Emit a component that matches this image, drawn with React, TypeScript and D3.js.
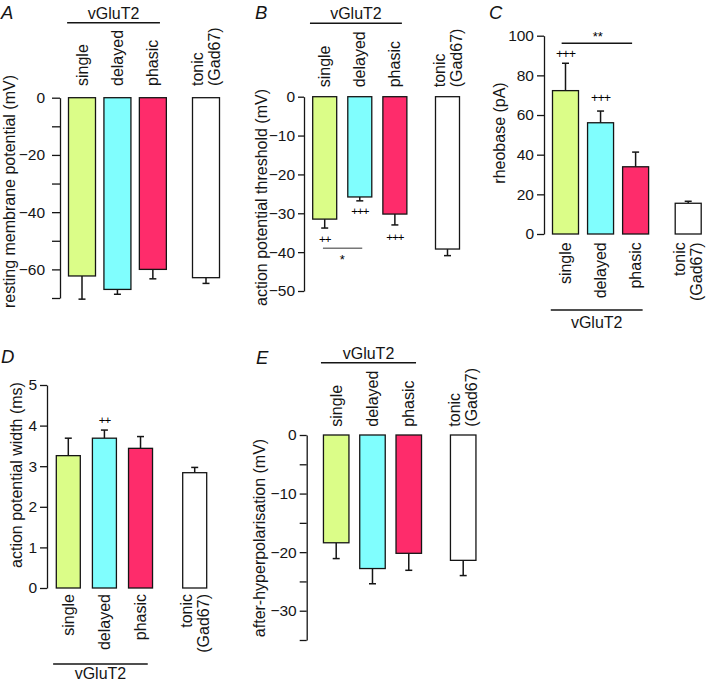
import React from 'react';
import * as d3 from 'd3';

const width = 708;
const height = 681;
const font = '"Liberation Sans", Arial, Helvetica, sans-serif';
const ink = '#151515';

// shared categories
const categories = ['single', 'delayed', 'phasic', 'tonic'];
const slots = [0, 1, 2, 3.5];
const fills = ['#dbfd88', '#80fefe', '#fe2c6b', '#ffffff'];
const groupLabel = 'vGluT2';
const tonicLines = ['tonic', '(Gad67)'];

// A: resting membrane potential (mV)
const restMean = [-62.3, -67.0, -60.0, -62.9];
const restSem = [8.1, 1.7, 3.3, 2.0];

// B: action potential threshold (mV)
const thrMean = [-31.5, -25.8, -30.2, -39.2];
const thrSem = [2.3, 1.0, 2.8, 1.7];

// C: rheobase (pA)
const rheoMean = [72.3, 56.1, 33.9, 15.5];
const rheoSem = [13.8, 5.9, 7.4, 1.0];

// D: action potential width (ms)
const widthMean = [3.26, 3.69, 3.44, 2.84];
const widthSem = [0.43, 0.2, 0.29, 0.13];

// E: after-hyperpolarisation (mV)
const ahpMean = [-18.4, -22.8, -20.2, -21.4];
const ahpSem = [2.7, 2.6, 2.9, 2.6];

type Mark =
  | {kind: 'text'; at: number; value: number; text: string; size: number; spacing?: number; central?: boolean}
  | {kind: 'line'; from: number; to: number; value: number; color: string};

type PanelProps = {
  letter: string;
  letterPos: [number, number];
  title: string;
  titlePos: [number, number];
  axisX: number;
  domain: [number, number];
  yRange: [number, number];
  tickStep: number;
  labelStep: number;
  tickSize: number;
  tickPadding: number;
  xRange: [number, number];
  barWidth: number;
  means: number[];
  sems: number[];
  below: boolean;
  labelEdge: number;
  groupLineY: number;
  groupTextY: number;
  marks: Mark[];
};

const Panel: React.FC<PanelProps> = (p) => {
  const axisRef = React.useRef<SVGGElement>(null);
  const x = d3.scaleLinear().domain([0, 3.5]).range(p.xRange);
  const y = d3.scaleLinear().domain(p.domain).range(p.yRange);

  React.useEffect(() => {
    if (!axisRef.current) return;
    const ticks = d3.range(p.domain[0], p.domain[1] + 1e-9, p.tickStep);
    const fmt = d3.format('d');
    const axis = d3.axisLeft(y)
      .tickValues(ticks)
      .tickSize(p.tickSize)
      .tickSizeOuter(0)
      .tickPadding(p.tickPadding)
      .tickFormat(d => (Math.abs(+d % p.labelStep) < 1e-9 ? fmt(+d) : ''));
    const g = d3.select(axisRef.current).call(axis);
    g.attr('font-family', font).attr('font-size', 15.5);
    g.selectAll('path, line').attr('stroke', ink).attr('stroke-width', 1.3);
    g.selectAll('text').attr('fill', ink);
  }, []);

  const zero = y(0);
  const groupFrom = x(-0.42);
  const groupTo = x(2.2);

  return (
    <g fontFamily={font}>
      <text x={p.letterPos[0]} y={p.letterPos[1]} fontSize={18.5} fontStyle='italic' fill={ink}>{p.letter}</text>
      <text
        transform={`translate(${p.titlePos[0]},${p.titlePos[1]}) rotate(-90)`}
        textAnchor='middle' dominantBaseline='central' fontSize={16} fill={ink}>
        {p.title}
      </text>
      <g ref={axisRef} transform={`translate(${p.axisX},0)`} />

      {p.means.map((m, i) => {
        const cx = x(slots[i]);
        const end = y(m);
        const err = y(m + Math.sign(m) * p.sems[i]);
        return (
          <g key={categories[i]}>
            <line x1={cx} x2={cx} y1={end} y2={err} stroke={ink} strokeWidth={1.5} />
            <line x1={cx - 3.5} x2={cx + 3.5} y1={err} y2={err} stroke={ink} strokeWidth={1.5} />
            <rect x={cx - p.barWidth / 2} width={p.barWidth}
              y={Math.min(zero, end)} height={Math.abs(end - zero)}
              fill={fills[i]} stroke={ink} strokeWidth={1.3} />
          </g>
        );
      })}

      {categories.map((c, i) => {
        const cx = x(slots[i]);
        const lines = c === 'tonic' ? tonicLines : [c];
        const offs = lines.length === 2 ? [-8.5, 8.5] : [0];
        return lines.map((t, j) => (
          <text key={c + j}
            transform={`translate(${cx + offs[j]},${p.labelEdge}) rotate(-90)`}
            textAnchor={p.below ? 'end' : 'start'} dominantBaseline='central'
            fontSize={16} fill={ink}>
            {t}
          </text>
        ));
      })}

      <line x1={groupFrom} x2={groupTo} y1={p.groupLineY} y2={p.groupLineY} stroke={ink} strokeWidth={1.4} />
      <text x={(groupFrom + groupTo) / 2} y={p.groupTextY} textAnchor='middle' fontSize={16} fill={ink}>
        {groupLabel}
      </text>

      {p.marks.map((mk, i) => mk.kind === 'line' ? (
        <line key={i} x1={x(mk.from)} x2={x(mk.to)} y1={y(mk.value)} y2={y(mk.value)}
          stroke={mk.color} strokeWidth={1.3} />
      ) : (
        <text key={i} x={x(mk.at)} y={y(mk.value)} textAnchor='middle'
          dominantBaseline={mk.central ? 'central' : 'auto'}
          fontSize={mk.size} letterSpacing={mk.spacing ?? 0} fill='#000'>
          {mk.text}
        </text>
      ))}
    </g>
  );
};

const App: React.FC = () => {
  return (
    <svg width={width} height={height} style={{position: 'absolute', left: 0, top: 0, background: '#fff'}}>
      <Panel
        letter='A' letterPos={[1, 18.5]}
        title='resting membrane potential (mV)' titlePos={[9, 191.5]}
        axisX={60} domain={[-70, 0]} yRange={[298, 97.7]}
        tickStep={10} labelStep={20} tickSize={8} tickPadding={7}
        xRange={[82, 206]} barWidth={27}
        means={restMean} sems={restSem}
        below={false} labelEdge={86} groupLineY={22.7} groupTextY={18.5}
        marks={[]}
      />
      <Panel
        letter='B' letterPos={[255, 18.5]}
        title='action potential threshold (mV)' titlePos={[261, 197.5]}
        axisX={304} domain={[-50, 0]} yRange={[291, 96.7]}
        tickStep={10} labelStep={10} tickSize={6} tickPadding={3}
        xRange={[324.7, 447.5]} barWidth={24}
        means={thrMean} sems={thrSem}
        below={false} labelEdge={87.3} groupLineY={23.3} groupTextY={19}
        marks={[
          {kind: 'text', at: 0, value: -36.7, text: '++', size: 11.5, spacing: -1, central: true},
          {kind: 'text', at: 1, value: -29.3, text: '+++', size: 11.5, spacing: -1, central: true},
          {kind: 'text', at: 2, value: -36.0, text: '+++', size: 11.5, spacing: -1, central: true},
          {kind: 'line', from: -0.05, to: 1.07, value: -39, color: '#777'},
          {kind: 'text', at: 0.5, value: -43, text: '*', size: 13},
        ]}
      />
      <Panel
        letter='C' letterPos={[489, 18.5]}
        title='rheobase (pA)' titlePos={[499, 133]}
        axisX={544} domain={[0, 100]} yRange={[234, 35.7]}
        tickStep={20} labelStep={20} tickSize={7} tickPadding={3}
        xRange={[565.5, 688.2]} barWidth={26}
        means={rheoMean} sems={rheoSem}
        below={true} labelEdge={242.3} groupLineY={310} groupTextY={327.7}
        marks={[
          {kind: 'text', at: 0, value: 90.6, text: '+++', size: 12.5, spacing: -1, central: true},
          {kind: 'text', at: 1, value: 68.4, text: '+++', size: 12.5, spacing: -1, central: true},
          {kind: 'line', from: -0.11, to: 1.9, value: 96.2, color: ink},
          {kind: 'text', at: 0.92, value: 97.4, text: '**', size: 13},
        ]}
      />
      <Panel
        letter='D' letterPos={[1, 363]}
        title='action potential width (ms)' titlePos={[16, 475]}
        axisX={47} domain={[0, 5]} yRange={[588, 385]}
        tickStep={1} labelStep={1} tickSize={7} tickPadding={3}
        xRange={[68.3, 194.7]} barWidth={24}
        means={widthMean} sems={widthSem}
        below={true} labelEdge={594} groupLineY={664} groupTextY={679}
        marks={[
          {kind: 'text', at: 1, value: 4.15, text: '++', size: 11.5, spacing: -1, central: true},
        ]}
      />
      <Panel
        letter='E' letterPos={[256, 363.5]}
        title='after-hyperpolarisation (mV)' titlePos={[259, 538]}
        axisX={306.7} domain={[-35, 0]} yRange={[640, 435]}
        tickStep={5} labelStep={10} tickSize={7} tickPadding={3}
        xRange={[336.2, 463.2]} barWidth={25.5}
        means={ahpMean} sems={ahpSem}
        below={false} labelEdge={426.7} groupLineY={362.7} groupTextY={358.5}
        marks={[]}
      />
    </svg>
  );
};

export default App;
